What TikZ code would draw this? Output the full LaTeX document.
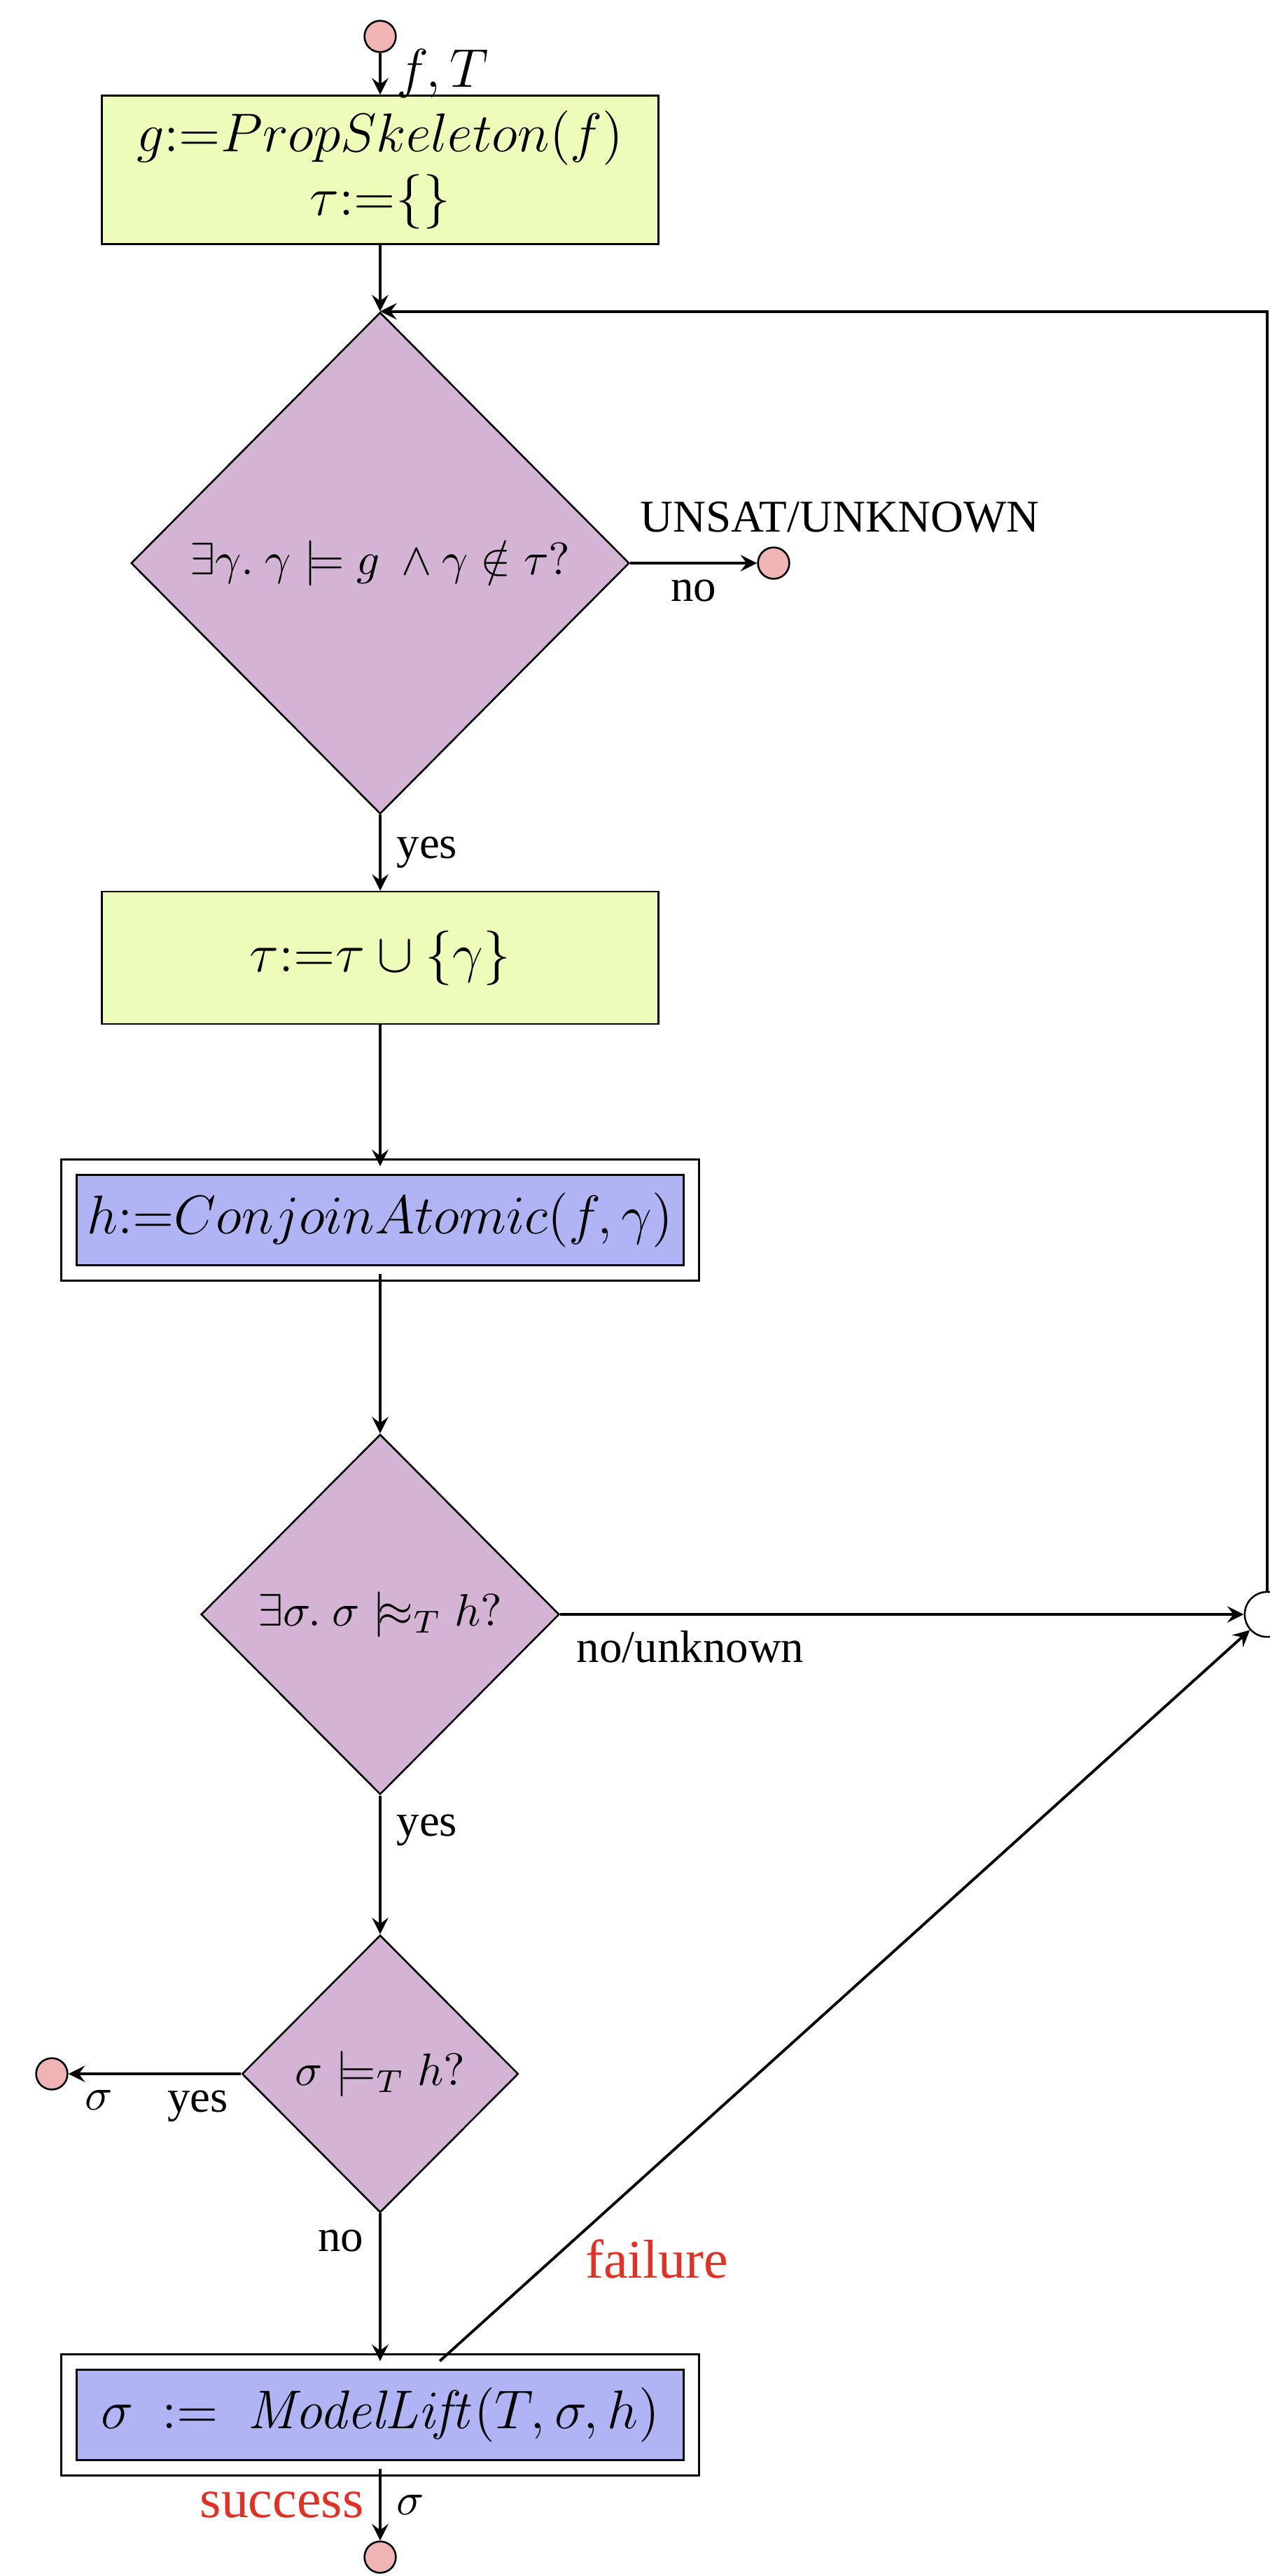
\documentclass[tikz,border=0pt]{standalone}
\usepackage[no-math]{fontspec}
\setmainfont{Liberation Serif}
\usepackage{amsmath}
\usepackage{amssymb}
\usetikzlibrary{shapes.geometric}

\definecolor{boxgreen}{RGB}{238,252,185}
\definecolor{decpurple}{RGB}{211,180,212}
\definecolor{callblue}{RGB}{176,180,245}
\definecolor{termpink}{RGB}{240,180,180}
\definecolor{lblred}{RGB}{228,48,36}

\begin{document}
\begin{tikzpicture}[x=15.4pt, y=15.4pt, >=stealth,
        assign/.style={draw, fill=boxgreen, minimum width=122.4pt, minimum height=29.1pt, font=\large, align=center},
        test/.style={draw, diamond, fill=decpurple, aspect=1, inner sep=0pt},
        call/.style={draw, double, double distance=3pt, fill=callblue, minimum width=136.9pt, minimum height=23.3pt, font=\large},
        term/.style={draw, circle, fill=termpink, minimum size=6.9pt, inner sep=0pt},
        flow/.style={->, line width=0.6pt},
        hilite/.style={text=lblred, font=\large}]
    \useasboundingbox (0,0) rectangle (18.14,-36.78);
    \clip (0,0) rectangle (18.14,-36.78);
    % nodes, top to bottom
    \node[term] (start) at (5.43,-0.52) {};
    \node[assign, minimum height=31pt] (init) at (5.43,-2.425) {$g\mathbf{:}{=}PropSkeleton(f)$\\$\tau\mathbf{:}{=}\{\}$};
    \node[test, minimum width=109.6pt, minimum height=110.3pt] (pick) at (5.43,-8.04) {$\exists\gamma.\ \gamma\models g\ \wedge\gamma\notin\tau?$};
    \node[term] (unsat) at (11.05,-8.04) {};
    \node[anchor=south west] (unsatlbl) at (8.92,-7.83) {UNSAT/UNKNOWN};
    \node[assign] (record) at (5.43,-13.675) {$\tau\mathbf{:}{=}\tau\cup\{\gamma\}$};
    \node[call] (conjoin) at (5.43,-17.42) {$h\mathbf{:}{=}ConjoinAtomic(f,\gamma)$};
    \node[test, minimum width=78.8pt, minimum height=79.2pt] (approx) at (5.43,-23.05) {$\exists\sigma.\ \sigma\mathrel{|}\joinrel\approx_T h?$};
    \node[draw, circle, fill=white, minimum size=9.9pt, inner sep=0pt] (join) at (18.10,-23.05) {};
    \node[test, minimum width=60.8pt, minimum height=61pt] (exact) at (5.43,-29.61) {$\sigma\models_T h?$};
    \node[term] (sat) at (0.74,-29.61) {};
    \node[call] (lift) at (5.43,-34.48) {$\sigma\ :=\ \mathit{ModelLift}(T,\sigma,h)$};
    \node[term] (done) at (5.43,-36.51) {};
    \node[hilite] (faillbl) at (9.38,-32.25) {failure};
    % connectors
    \draw[flow] (start) -- node[right, font=\large]{$f,T$} (init);
    \draw[flow] (init) -- (pick);
    \draw[flow] (pick) -- node[below]{no} (unsat);
    \draw[flow] (pick) -- node[right]{yes} (record);
    \draw[flow] (record) -- (conjoin);
    \draw[flow] (conjoin) -- (approx);
    \draw[flow] (approx) -- node[pos=0, below right]{no/unknown} (join);
    \draw[flow] (approx) -- node[near start, right]{yes} (exact);
    \draw[flow] (exact) -- node[near start, below]{yes} node[pos=1, below right]{$\sigma$} (sat);
    \draw[flow] (exact) -- node[pos=0, below left]{no} (lift);
    \draw[flow] (lift) -- node[hilite, left]{success} node[right]{$\sigma$} (done);
    \draw[flow] (lift) -- (join);
    \draw[flow] (join) |- (pick.north);
\end{tikzpicture}
\end{document}
